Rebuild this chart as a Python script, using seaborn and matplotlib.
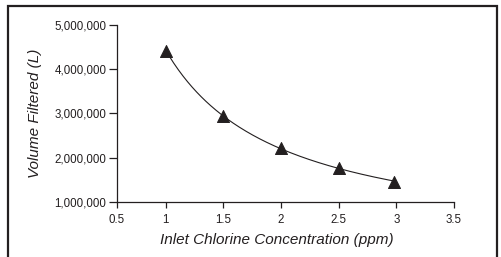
import matplotlib
matplotlib.use('Agg')
import matplotlib.pyplot as plt
import matplotlib.ticker as mticker
from matplotlib.patches import Rectangle
import numpy as np
import pandas as pd
import seaborn as sns

# data
chlorine_ppm = [1.0, 1.5, 2.0, 2.5, 2.98]
volume_l = [4400000, 2950000, 2210000, 1770000, 1450000]

x_ticks = [1, 1.5, 2, 2.5, 3, 3.5]
y_ticks = [1000000, 2000000, 3000000, 4000000, 5000000]

df = pd.DataFrame({'ppm': chlorine_ppm, 'volume': volume_l})

# power-law trend line fitted to the points
b, log_a = np.polyfit(np.log(df['ppm']), np.log(df['volume']), 1)
x_fit = np.linspace(df['ppm'].min(), df['ppm'].max(), 200)
fit = pd.DataFrame({'ppm': x_fit, 'volume': np.exp(log_a) * x_fit ** b})

ink = '#231f20'
sns.set_style('ticks')
plt.rcParams['font.family'] = ['Liberation Sans', 'DejaVu Sans']
plt.rcParams['text.color'] = ink
plt.rcParams['axes.labelcolor'] = ink
plt.rcParams['xtick.color'] = ink
plt.rcParams['ytick.color'] = ink

fig = plt.figure(figsize=(5.01, 2.57), dpi=100)
ax = fig.add_axes([0.233, 0.215, 0.673, 0.688])

sns.lineplot(data=fit, x='ppm', y='volume', ax=ax, color=ink, linewidth=0.8)
sns.scatterplot(data=df, x='ppm', y='volume', ax=ax, marker='^', s=75,
                color=ink, edgecolor=ink, zorder=3)

# the printed axis starts a little short of 1 and is labelled 0.5 at its left end
x_left = 0.575
ax.set_xlim(x_left, 3.5)
ax.set_ylim(1000000, 5000000)
ax.set_xticks([x_left] + x_ticks)
ax.set_xticklabels(['0.5'] + [f'{t:g}' for t in x_ticks])
ax.set_yticks(y_ticks)
ax.yaxis.set_major_formatter(mticker.FuncFormatter(lambda v, p: f'{int(v):,}'))
ax.tick_params(axis='y', labelsize=8.3, length=5.5, width=0.9, pad=2)
ax.tick_params(axis='x', labelsize=8.3, length=4, width=0.9, pad=5)
for s in ['left', 'bottom']:
    ax.spines[s].set_linewidth(0.9)
    ax.spines[s].set_color(ink)
sns.despine(ax=ax)

ax.set_xlabel('Inlet Chlorine Concentration (ppm)', fontsize=11, style='italic',
              labelpad=5, x=0.474)
ax.set_ylabel('Volume Filtered (L)', fontsize=11, style='italic', labelpad=9)

# outer border box, bottom runs off the image
fig.patches.append(Rectangle((8 / 501, -0.1), 489 / 501, 1.1 - 6 / 257,
                             transform=fig.transFigure, fill=False,
                             edgecolor=ink, linewidth=1.6, clip_on=False))

fig.savefig('out.png', dpi=100)
